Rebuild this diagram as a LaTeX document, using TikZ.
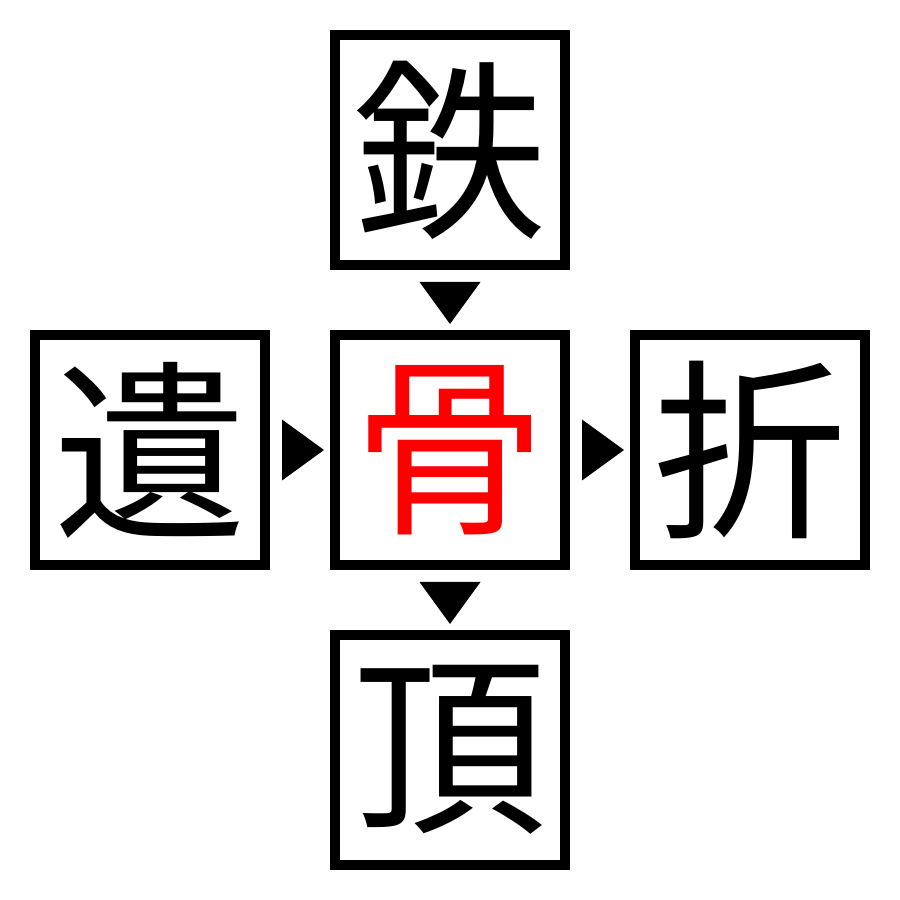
\documentclass[tikz,border=0pt]{standalone}
\usepackage{fontspec}
\newfontfamily\cjk{Noto Sans CJK JP}
\usetikzlibrary{calc}
\tikzset{
	kanji/.style={draw, line width=0.1cm, minimum size=2.3cm, inner sep=0pt, font=\cjk\fontsize{55}{55}\selectfont},
}
\begin{document}
\begin{tikzpicture}
			%%%%% START %%%%%
			\useasboundingbox (0, 0) rectangle (9, 9);
			
			\node[kanji] (tetsu) at (4.5, 7.5) {鉄};
			\node[kanji] (i) at (1.5, 4.5) {遺};
			\node[kanji, text=red] (hone) at (4.5, 4.5) {骨};
			\node[kanji] (setsu) at (7.5, 4.5) {折};
			\node[kanji] (chou) at (4.5, 1.5) {頂};
			
			% arrow heads between the boxes
			\fill ($(tetsu.south)+(-0.305, -0.12)$) -- ($(tetsu.south)+(0.305, -0.12)$) -- ($(hone.north)+(0, 0.06)$) -- cycle;
			\fill ($(i.east)+(0.12, 0.305)$) -- ($(i.east)+(0.12, -0.305)$) -- ($(hone.west)+(-0.06, 0)$) -- cycle;
			\fill ($(hone.east)+(0.12, 0.305)$) -- ($(hone.east)+(0.12, -0.305)$) -- ($(setsu.west)+(-0.06, 0)$) -- cycle;
			\fill ($(hone.south)+(-0.305, -0.12)$) -- ($(hone.south)+(0.305, -0.12)$) -- ($(chou.north)+(0, 0.06)$) -- cycle;
			
			%%%%% END %%%%%
\end{tikzpicture}
\end{document}
